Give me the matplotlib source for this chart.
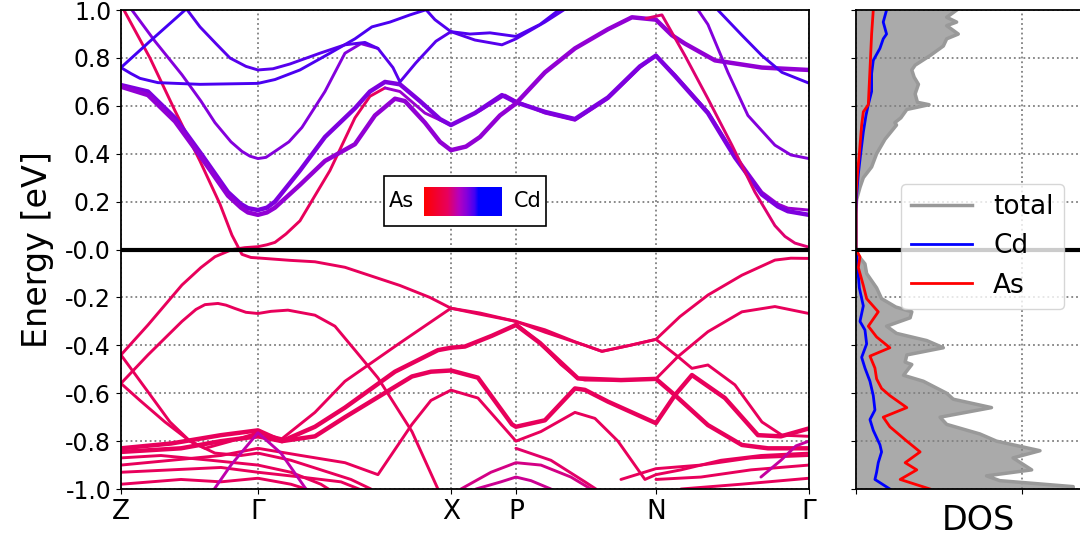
import matplotlib
matplotlib.use("Agg")
import matplotlib.pyplot as plt
import numpy as np
from matplotlib.colors import LinearSegmentedColormap
from matplotlib.patches import Rectangle

# k-path (distance along path) and labels
kpath_pos = [0.0, 1.37, 3.30, 3.95, 5.35, 6.88]
kpath_labels = ['Z', 'Γ', 'X', 'P', 'N', 'Γ']

ytick_vals = [-1.0, -0.8, -0.6, -0.4, -0.2, 0.0, 0.2, 0.4, 0.6, 0.8, 1.0]
ytick_labels = ['-1.0', '-0.8', '-0.6', '-0.4', '-0.2', '-0.0', '0.2', '0.4', '0.6', '0.8', '1.0']

# bands as (k, E) ; weight = Cd character (0 = As, 1 = Cd)
cb_z_up = [(0.00, 0.76), (0.29, 0.87), (0.64, 1.00), (0.74, 1.04)]
cb_blue_a = [(0.00, 0.76), (0.10, 0.735), (0.19, 0.715), (0.37, 0.697), (0.79, 0.69), (1.37, 0.694),
             (1.54, 0.71), (1.79, 0.75), (2.09, 0.82), (2.34, 0.88), (2.51, 0.93), (2.69, 0.95),
             (2.89, 0.98), (3.04, 1.00), (3.14, 1.03)]
cb_blue_b = [(0.61, 1.03), (0.79, 0.93), (0.95, 0.86), (1.09, 0.80), (1.25, 0.765), (1.37, 0.75),
             (1.52, 0.755), (1.69, 0.775), (1.99, 0.82), (2.24, 0.855), (2.44, 0.865), (2.57, 0.84),
             (2.72, 0.76), (2.79, 0.70), (2.95, 0.78), (3.15, 0.87), (3.30, 0.91), (3.54, 0.875),
             (3.81, 0.855), (3.95, 0.88), (4.24, 0.95), (4.50, 1.02)]
cb_blue_c = [(2.99, 1.03), (3.14, 0.96), (3.30, 0.91), (3.49, 0.90), (3.69, 0.905), (3.95, 0.89),
             (4.19, 0.94), (4.44, 1.02)]
cb_purple_g = [(0.11, 1.00), (0.34, 0.87), (0.61, 0.73), (0.80, 0.62), (0.94, 0.53), (1.10, 0.45),
               (1.21, 0.41), (1.29, 0.39), (1.37, 0.38), (1.45, 0.385), (1.54, 0.41), (1.68, 0.45),
               (1.81, 0.51), (2.04, 0.66), (2.24, 0.82), (2.40, 0.86), (2.57, 0.84)]
cb_a_low = [(0.00, -0.44), (0.27, -0.315), (0.61, -0.148), (0.80, -0.075), (0.94, -0.03),
            (1.11, 0.00), (1.24, 0.008), (1.37, 0.012), (1.46, 0.02), (1.54, 0.03), (1.65, 0.065),
            (1.79, 0.12), (2.09, 0.33), (2.34, 0.55), (2.49, 0.64), (2.64, 0.675)]
cb_a_high = [(2.64, 0.675), (2.79, 0.66), (3.04, 0.57), (3.30, 0.52), (3.59, 0.58), (3.84, 0.645),
             (3.95, 0.62), (4.24, 0.57), (4.54, 0.54), (4.87, 0.63), (5.19, 0.76), (5.35, 0.81),
             (5.54, 0.73), (5.87, 0.575), (6.14, 0.395), (6.41, 0.24), (6.57, 0.19), (6.67, 0.173),
             (6.88, 0.165)]
cb_b = [(0.00, 0.687), (0.27, 0.66), (0.54, 0.55), (0.81, 0.395), (1.07, 0.24), (1.20, 0.19),
        (1.27, 0.173), (1.37, 0.165), (1.46, 0.175), (1.54, 0.20), (1.79, 0.33), (2.04, 0.47),
        (2.34, 0.59), (2.49, 0.66), (2.64, 0.70), (2.79, 0.69), (2.99, 0.62), (3.19, 0.545),
        (3.30, 0.52), (3.54, 0.57), (3.81, 0.645), (3.95, 0.615), (4.24, 0.575), (4.54, 0.545),
        (4.87, 0.635), (5.19, 0.765), (5.35, 0.81), (5.54, 0.725), (5.87, 0.57), (6.14, 0.385),
        (6.41, 0.23), (6.57, 0.18), (6.67, 0.16), (6.88, 0.145)]
cb_c = [(0.00, 0.68), (0.27, 0.645), (0.54, 0.535), (0.81, 0.38), (1.07, 0.225), (1.20, 0.175),
        (1.27, 0.155), (1.37, 0.145), (1.46, 0.155), (1.54, 0.175), (1.79, 0.27), (2.04, 0.37),
        (2.34, 0.44), (2.54, 0.56), (2.74, 0.63), (2.84, 0.62), (3.04, 0.53), (3.19, 0.45),
        (3.30, 0.415), (3.45, 0.43), (3.59, 0.47), (3.79, 0.56), (3.95, 0.61), (4.24, 0.74),
        (4.54, 0.84), (4.87, 0.92), (5.11, 0.97), (5.35, 0.96), (5.51, 0.895), (5.64, 0.86),
        (5.94, 0.79), (6.41, 0.76), (6.88, 0.75)]
cb_red_n = [(5.25, 0.965), (5.41, 0.98), (5.64, 0.81), (5.87, 0.63), (6.11, 0.436), (6.34, 0.24),
            (6.54, 0.10), (6.64, 0.055), (6.74, 0.027), (6.88, 0.01)]
cb_purple_n = [(5.74, 1.02), (5.87, 0.94), (6.07, 0.74), (6.27, 0.56), (6.54, 0.436), (6.70, 0.395),
               (6.88, 0.38)]
cb_blue_n = [(5.97, 1.00), (6.21, 0.895), (6.41, 0.81), (6.61, 0.74), (6.88, 0.695)]

vb1 = [(0.03, 1.00), (0.29, 0.80), (0.54, 0.58), (0.79, 0.37), (0.99, 0.19), (1.11, 0.06),
       (1.21, -0.02), (1.30, -0.033), (1.37, -0.035), (1.69, -0.045), (1.94, -0.051), (2.24, -0.074),
       (2.79, -0.15), (3.09, -0.20), (3.30, -0.245), (3.59, -0.265), (3.95, -0.30), (4.24, -0.335),
       (4.54, -0.385), (4.81, -0.425), (5.09, -0.40), (5.35, -0.375), (5.59, -0.28), (5.87, -0.19),
       (6.21, -0.107), (6.54, -0.044), (6.70, -0.036), (6.88, -0.037)]
vb2 = [(0.00, -0.559), (0.27, -0.44), (0.61, -0.30), (0.75, -0.25), (0.84, -0.23), (0.97, -0.225),
       (1.05, -0.232), (1.14, -0.246), (1.25, -0.262), (1.37, -0.267), (1.50, -0.258), (1.67, -0.253),
       (1.94, -0.274), (2.14, -0.32), (2.24, -0.37), (2.34, -0.42), (2.57, -0.536), (2.91, -0.76),
       (3.17, -1.00), (3.22, -1.05)]
vb_np = [(3.95, -0.31), (4.19, -0.39), (4.40, -0.48), (4.57, -0.538), (4.64, -0.545), (5.00, -0.545),
         (5.35, -0.54), (5.57, -0.447), (5.87, -0.343), (6.21, -0.26), (6.54, -0.238), (6.88, -0.267)]
vb3 = [(0.00, -0.44), (0.27, -0.594), (0.49, -0.72), (0.69, -0.80), (0.84, -0.83), (1.10, -0.80),
       (1.37, -0.765), (1.61, -0.79), (1.94, -0.68), (2.24, -0.55), (2.79, -0.39), (3.30, -0.245),
       (3.59, -0.27), (3.95, -0.30), (4.24, -0.345), (4.64, -0.40), (4.81, -0.425), (5.09, -0.40),
       (5.35, -0.375), (5.57, -0.447), (5.71, -0.496), (5.87, -0.482), (6.14, -0.565), (6.41, -0.72),
       (6.61, -0.775), (6.88, -0.78)]
vb4 = [(0.00, -0.83), (0.50, -0.81), (1.00, -0.775), (1.37, -0.755), (1.61, -0.80), (1.94, -0.74),
       (2.24, -0.66), (2.74, -0.51), (3.17, -0.42), (3.30, -0.41), (3.44, -0.405), (3.71, -0.36),
       (3.95, -0.315), (4.19, -0.39), (4.57, -0.538), (5.00, -0.545), (5.35, -0.54), (5.54, -0.608),
       (5.87, -0.733), (6.21, -0.816), (6.47, -0.83), (6.88, -0.83)]
vb5 = [(0.00, -0.845), (0.60, -0.83), (1.00, -0.80), (1.37, -0.78), (1.61, -0.80), (1.94, -0.78),
       (2.24, -0.70), (2.91, -0.53), (3.10, -0.51), (3.30, -0.505), (3.57, -0.535), (3.91, -0.73),
       (3.95, -0.74), (4.24, -0.713), (4.54, -0.58), (4.64, -0.586), (4.87, -0.635), (5.35, -0.725),
       (5.54, -0.608), (5.71, -0.524), (6.04, -0.62), (6.37, -0.775), (6.60, -0.78), (6.88, -0.747)]
vb6 = [(0.00, -0.90), (0.50, -0.88), (1.00, -0.86), (1.37, -0.83), (1.80, -0.86), (2.24, -0.89),
       (2.57, -0.94), (2.91, -0.73), (3.10, -0.63), (3.30, -0.587), (3.57, -0.62), (3.95, -0.80),
       (4.20, -0.76), (4.54, -0.68), (4.74, -0.705), (4.97, -0.80), (5.24, -0.96), (5.35, -0.94),
       (5.60, -0.92), (6.00, -0.88), (6.40, -0.86), (6.88, -0.85)]
vb7 = [(0.00, -0.93), (0.50, -0.92), (1.00, -0.91), (1.37, -0.93), (1.80, -0.95), (2.20, -0.97),
       (2.50, -1.02)]
vb8 = [(0.00, -0.98), (0.60, -0.96), (1.00, -0.97), (1.37, -0.955), (1.70, -0.98), (2.00, -1.02)]
vb9 = [(0.00, -0.87), (0.40, -0.86), (0.90, -0.88), (1.37, -0.90), (1.70, -0.93), (2.00, -0.98),
       (2.15, -1.02)]
vbz = [(0.00, -0.559), (0.19, -0.63), (0.44, -0.72), (0.69, -0.80), (0.94, -0.85), (1.20, -0.86),
       (1.37, -0.85), (1.70, -0.88), (2.00, -0.92), (2.30, -0.96), (2.50, -1.00)]
vb_mag = [(0.90, -1.02), (1.10, -0.90), (1.37, -0.765), (1.60, -0.85), (1.85, -1.00)]
vbp1 = [(3.40, -1.00), (3.70, -0.93), (3.95, -0.89), (4.20, -0.90), (4.50, -0.95), (4.70, -1.00)]
vbp2 = [(3.55, -1.00), (3.80, -0.97), (3.95, -0.95), (4.10, -0.965), (4.30, -1.00)]
vbp3 = [(3.95, -0.83), (4.30, -0.88), (4.64, -0.97), (4.75, -1.00)]
vbn1 = [(5.00, -0.96), (5.35, -0.915), (5.80, -0.90), (6.30, -0.87), (6.88, -0.86)]
vbn2 = [(5.35, -0.96), (5.80, -0.95), (6.30, -0.92), (6.88, -0.90)]
vbn3 = [(5.60, -1.00), (6.20, -0.98), (6.88, -0.955)]
vbn_mag = [(6.40, -0.95), (6.60, -0.88), (6.75, -0.82), (6.88, -0.80)]

valence = [(vb1, 0.3), (vb2, 0.3), (vb_np, 0.3), (vb3, 0.3), (vb4, 0.3), (vb5, 0.3), (vb6, 0.3),
           (vb7, 0.3), (vb8, 0.3), (vb9, 0.3), (vbz, 0.3), (vb_mag, 0.42), (vbp1, 0.36), (vbp2, 0.38),
           (vbp3, 0.32), (vbn1, 0.3), (vbn2, 0.3), (vbn3, 0.3), (vbn_mag, 0.4)]
conduction = [(cb_a_low, 0.3), (cb_a_high, 0.5), (cb_b, 0.56), (cb_c, 0.52), (cb_purple_g, 0.55),
              (cb_blue_a, 0.64), (cb_blue_b, 0.62), (cb_blue_c, 0.63), (cb_z_up, 0.65),
              (cb_red_n, 0.33), (cb_purple_n, 0.55), (cb_blue_n, 0.64)]
thick = [cb_b, cb_c, vb4, vb5]

# DOS (E, value)
dos_total = [(1.00, 3.03), (0.97, 2.73), (0.95, 3.03), (0.935, 2.73), (0.90, 3.08), (0.88, 2.73),
             (0.85, 2.63), (0.81, 2.23), (0.77, 1.78), (0.75, 1.68), (0.72, 1.75), (0.69, 1.88),
             (0.65, 1.78), (0.615, 1.85), (0.605, 2.20), (0.585, 1.53), (0.55, 1.35), (0.53, 1.17),
             (0.52, 1.22), (0.46, 0.87), (0.40, 0.62), (0.345, 0.47), (0.30, 0.22), (0.26, 0.12),
             (0.21, 0.02), (0.17, 0.0), (0.0, 0.0), (-0.017, 0.02), (-0.06, 0.27), (-0.10, 0.32),
             (-0.16, 0.62), (-0.205, 0.77), (-0.24, 1.20), (-0.26, 1.68), (-0.285, 1.63),
             (-0.32, 0.92), (-0.35, 1.22), (-0.38, 2.13), (-0.41, 2.63), (-0.44, 1.53), (-0.47, 1.48),
             (-0.48, 1.68), (-0.525, 1.43), (-0.55, 2.03), (-0.60, 2.73), (-0.625, 2.93),
             (-0.66, 4.08), (-0.70, 2.53), (-0.73, 2.73), (-0.77, 3.73), (-0.80, 4.23), (-0.84, 5.54),
             (-0.87, 4.73), (-0.92, 5.29), (-0.945, 3.93), (-0.965, 4.33), (-0.99, 6.54), (-1.00, 6.54)]
dos_cd = [(1.00, 0.92), (0.95, 0.82), (0.90, 0.92), (0.88, 0.82), (0.84, 0.72), (0.79, 0.52),
          (0.735, 0.47), (0.66, 0.47), (0.605, 0.37), (0.56, 0.30), (0.49, 0.22), (0.40, 0.14),
          (0.315, 0.07), (0.23, 0.02), (0.15, 0.0), (0.0, 0.0), (-0.03, 0.02), (-0.06, 0.04),
          (-0.16, 0.10), (-0.235, 0.22), (-0.30, 0.12), (-0.336, 0.27), (-0.394, 0.32), (-0.45, 0.17),
          (-0.495, 0.27), (-0.55, 0.42), (-0.61, 0.52), (-0.67, 0.57), (-0.71, 0.42), (-0.755, 0.52),
          (-0.815, 0.72), (-0.845, 0.77), (-0.89, 0.67), (-0.93, 0.62), (-0.96, 0.57), (-1.00, 1.02)]
dos_as = [(1.00, 0.52), (0.90, 0.47), (0.75, 0.42), (0.605, 0.37), (0.575, 0.22), (0.52, 0.17),
          (0.40, 0.10), (0.31, 0.04), (0.23, 0.0), (0.0, 0.0), (-0.03, 0.12), (-0.075, 0.07),
          (-0.15, 0.22), (-0.205, 0.32), (-0.26, 0.67), (-0.32, 0.37), (-0.365, 0.62), (-0.41, 1.02),
          (-0.445, 0.42), (-0.495, 0.57), (-0.54, 0.62), (-0.58, 0.77), (-0.61, 1.02), (-0.66, 1.53),
          (-0.70, 0.82), (-0.74, 1.02), (-0.80, 1.53), (-0.845, 1.93), (-0.89, 1.48), (-0.92, 1.83),
          (-0.96, 1.33), (-1.00, 2.23)]

cmap = LinearSegmentedColormap.from_list(
    "ascd", [(0.0, '#ff0000'), (0.3, '#e8005c'), (0.45, '#b400c0'), (0.55, '#8400dc'),
             (0.65, '#4400f4'), (0.70, '#0000ff'), (1.0, '#0000ff')])

fig = plt.figure(figsize=(10.8, 5.43), dpi=100)
ax = fig.add_axes([0.112, 0.0994, 0.637, 0.882])
ax2 = fig.add_axes([0.7926, 0.0994, 0.226, 0.882])

for band, w in valence + conduction:
    k, e = zip(*band)
    lw = 3.2 if any(band is t for t in thick) else 2.1
    ax.plot(k, e, color=cmap(w), lw=lw, solid_capstyle='round', solid_joinstyle='round')

ax.axhline(0, color='k', lw=3)
ax.set_xlim(kpath_pos[0], kpath_pos[-1])
ax.set_ylim(-1, 1)
ax.set_xticks(kpath_pos)
ax.set_xticklabels(kpath_labels, fontsize=19)
ax.set_yticks(ytick_vals)
ax.set_yticklabels(ytick_labels, fontsize=17)
ax.set_ylabel("Energy [eV]", fontsize=24, labelpad=8)
ax.grid(True, linestyle=':', color='gray', lw=1.3)
for s in ax.spines.values():
    s.set_linewidth(1.3)

# colour key box
ax.add_patch(Rectangle((0.382, 0.549), 0.236, 0.104, transform=ax.transAxes,
                       facecolor='white', edgecolor='black', lw=1.2, zorder=5))
ax.text(0.408, 0.601, "As", transform=ax.transAxes, fontsize=15, ha='center', va='center', zorder=6)
ax.text(0.592, 0.601, "Cd", transform=ax.transAxes, fontsize=15, ha='center', va='center', zorder=6)
cax = ax.inset_axes([0.440, 0.570, 0.113, 0.0605])
cax.imshow(np.linspace(0, 1, 256)[None, :], cmap=cmap, aspect='auto')
cax.set_axis_off()
cax.set_zorder(7)

# DOS panel
e_t, v_t = zip(*dos_total)
e_c, v_c = zip(*dos_cd)
e_a, v_a = zip(*dos_as)
ax2.fill_betweenx(e_t, 0, v_t, color='#aaaaaa', lw=0)
ax2.plot(v_t, e_t, color='#999999', lw=2.5, label='total')
ax2.plot(v_c, e_c, color='blue', lw=2, label='Cd')
ax2.plot(v_a, e_a, color='red', lw=2, label='As')
ax2.axhline(0, color='k', lw=3)
ax2.set_ylim(-1, 1)
ax2.set_xlim(0, 7.35)
ax2.set_yticks(ytick_vals)
ax2.set_yticklabels([])
ax2.set_xticks([0, 5])
ax2.set_xticklabels([])
ax2.set_xlabel("DOS", fontsize=24)
ax2.grid(True, linestyle=':', color='gray', lw=1.3)
for s in ax2.spines.values():
    s.set_linewidth(1.3)
ax2.legend(loc='upper left', bbox_to_anchor=(0.13, 0.665), fontsize=19, framealpha=0.8,
           handlelength=2.3)

fig.savefig("out.png", dpi=100)
